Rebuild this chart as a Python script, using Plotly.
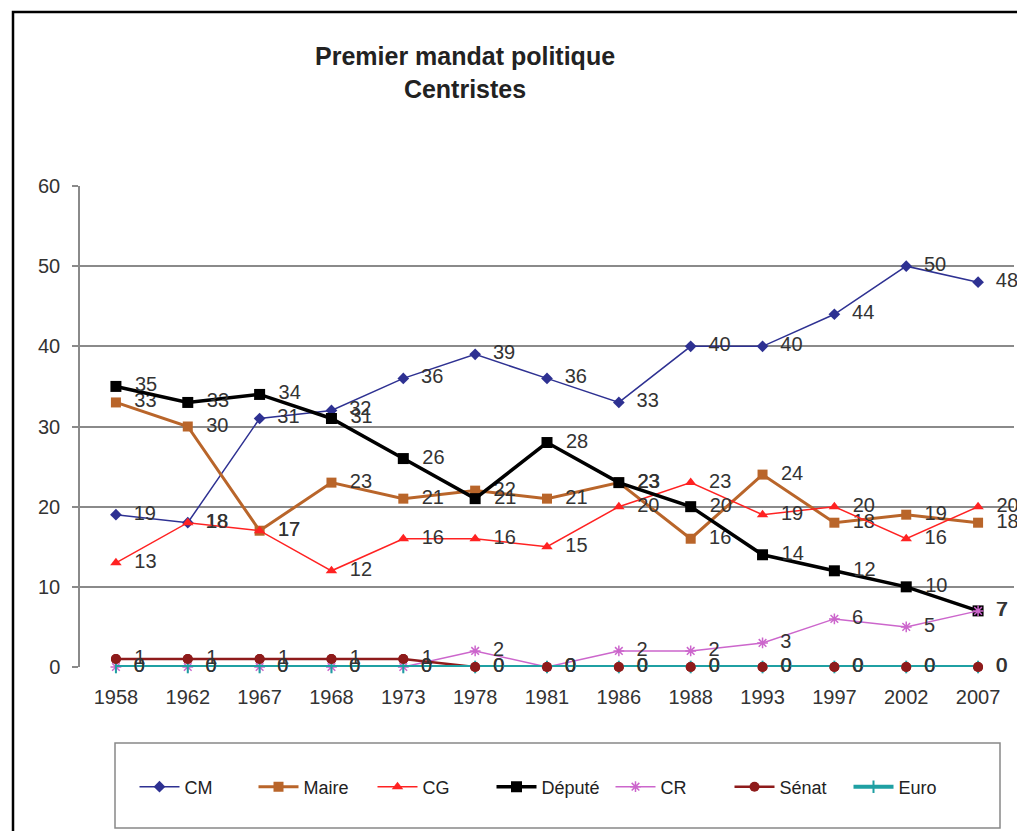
import plotly.graph_objects as go

years = ["1958", "1962", "1967", "1968", "1973", "1978", "1981", "1986",
         "1988", "1993", "1997", "2002", "2007"]
cm = [19, 18, 31, 32, 36, 39, 36, 33, 40, 40, 44, 50, 48]
maire = [33, 30, 17, 23, 21, 22, 21, 23, 16, 24, 18, 19, 18]
cg = [13, 18, 17, 12, 16, 16, 15, 20, 23, 19, 20, 16, 20]
depute = [35, 33, 34, 31, 26, 21, 28, 23, 20, 14, 12, 10, 7]
cr = [0, 0, 0, 0, 0, 2, 0, 2, 2, 3, 6, 5, 7]
senat = [1, 1, 1, 1, 1, 0, 0, 0, 0, 0, 0, 0, 0]
euro = [0, 0, 0, 0, 0, 0, 0, 0, 0, 0, 0, 0, 0]

series = [
    ("CM", cm, "#2E3192", 1.5, "diamond", 9, 0),
    ("Maire", maire, "#B9652A", 3, "square", 10, 0),
    ("CG", cg, "#FF2222", 1.5, "triangle-up", 10, 0),
    ("Député", depute, "#000000", 3.5, "square", 11, 0),
    ("CR", cr, "#CC66CC", 1.5, "asterisk-open", 9, 1.5),
    ("Sénat", senat, "#8E1B1B", 2.5, "circle", 10, 0),
    ("Euro", euro, "#1FA0A3", 4, "line-ns-open", 9, 2),
]

LABEL_FONT = dict(family="Liberation Sans, Arial", size=20, color="#333333")

fig = go.Figure()
for name, vals, color, lw, sym, ms, mlw in series:
    marker = dict(symbol=sym, size=ms, color=color)
    if mlw:
        marker["line"] = dict(color=color, width=mlw)
    fig.add_trace(go.Scatter(
        x=years, y=vals, name=name, mode="lines+markers+text",
        line=dict(color=color, width=lw), marker=marker,
        text=["  " + str(v) for v in vals], textposition="middle right",
        textfont=LABEL_FONT, cliponaxis=False,
    ))

# Sénat markers shown above the Euro line, as in the original
fig.add_trace(go.Scatter(
    x=years, y=senat, mode="markers", showlegend=False, hoverinfo="skip",
    marker=dict(symbol="circle", size=10, color="#8E1B1B"), cliponaxis=False,
))

OFF = 8  # page body margin
PL, PR, PT, PB = 80 - OFF, 1014 - OFF, 186 - OFF, 667 - OFF
W, H = 1025, 831

def px(x):
    return (x - OFF - PL) / (PR - PL)

def py(y):
    return (PB - (y - OFF)) / (PB - PT)

fig.update_layout(
    width=W, height=H,
    margin=dict(l=PL, r=W - PR, t=PT, b=H - PB, pad=0),
    paper_bgcolor="white", plot_bgcolor="white",
    font=dict(family="Liberation Sans, Arial", color="#333333"),
    showlegend=True,
    legend=dict(orientation="h", x=px(551), xanchor="center", y=py(787), yanchor="middle",
                font=dict(size=18, color="#222222"), bgcolor="rgba(0,0,0,0)",
                entrywidth=64, entrywidthmode="pixels", itemwidth=40),
    xaxis=dict(type="category", range=[-0.5, 12.5], showgrid=False, showline=False,
               ticks="", tickfont=dict(size=20, color="#333333"), ticklabelstandoff=16,
               zeroline=False, fixedrange=True),
    yaxis=dict(range=[0, 60], dtick=10, showgrid=True, gridcolor="#8a8a8a", gridwidth=1.5,
               showline=True, linecolor="#8a8a8a", linewidth=1.5, ticks="outside",
               ticklen=6, tickcolor="#8a8a8a", tickwidth=1.5, ticklabelstandoff=8,
               tickfont=dict(size=20, color="#333333"), zeroline=False, fixedrange=True),
    shapes=[
        dict(type="rect", xref="paper", yref="paper", x0=px(13), x1=px(1045),
             y0=py(850), y1=py(12), line=dict(color="black", width=2.5), layer="above"),
        dict(type="rect", xref="paper", yref="paper", x0=px(115), x1=px(1000),
             y0=py(828), y1=py(743), line=dict(color="#888888", width=1.5), layer="below"),
    ],
    annotations=[
        dict(text="<b>Premier mandat politique<br>Centristes</b>", xref="paper", yref="paper",
             x=px(465), y=py(72), xanchor="center", yanchor="middle", showarrow=False,
             font=dict(family="Liberation Sans, Arial", size=25, color="#222222")),
    ],
)

fig.write_html("out.html")
